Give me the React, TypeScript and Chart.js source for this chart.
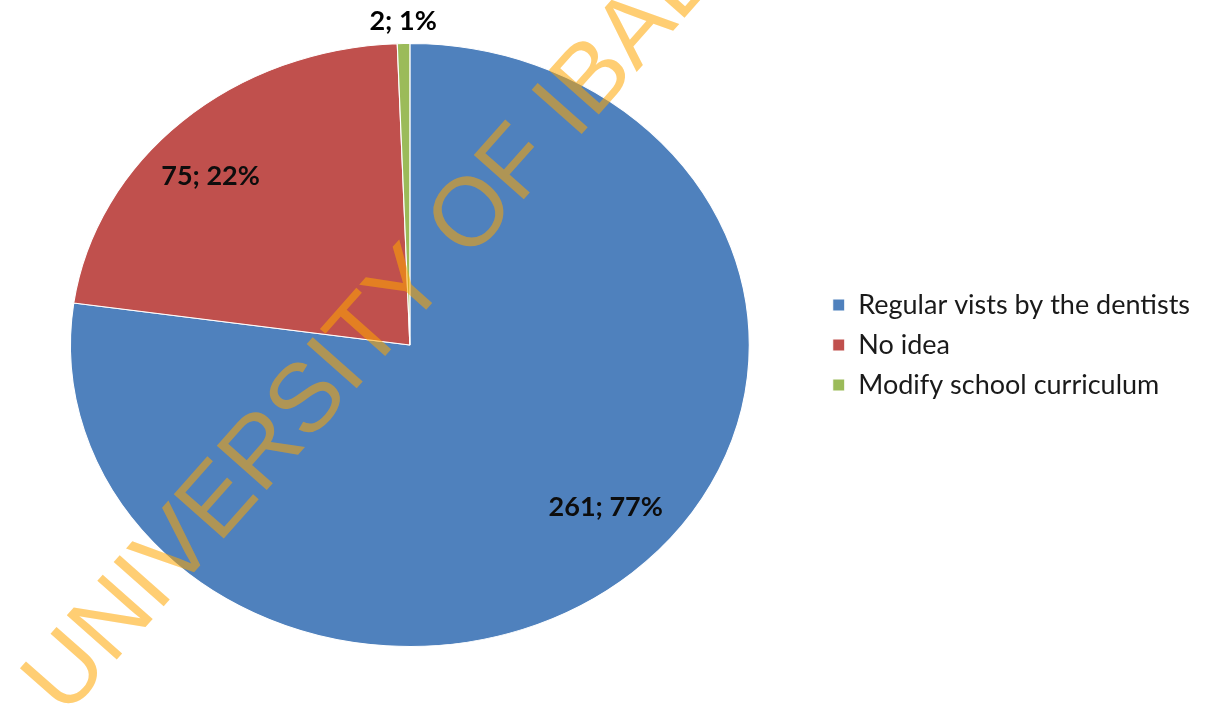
import React, { useEffect, useRef } from "react";
import { Chart, registerables } from "chart.js";

Chart.register(...registerables);

const categories = ["Regular vists by the dentists", "No idea", "Modify school curriculum"];
const counts = [261, 75, 2];
const percentLabels = ["77%", "22%", "1%"];
const sliceColors = ["#4F81BD", "#C0504D", "#9BBB59"];
const watermarkText = "UNIVERSITY OF IBADAN";

const X_STRETCH = 340 / 302;

export default function App() {
  const canvasRef = useRef<HTMLCanvasElement>(null);

  useEffect(() => {
    document.body.style.margin = "0";
    const canvas = canvasRef.current;
    if (!canvas) return;

    const stretchPlugin = {
      id: "stretch",
      beforeDatasetsDraw(chart: any) {
        const arc = chart.getDatasetMeta(0).data[0];
        const ctx = chart.ctx;
        ctx.save();
        ctx.translate(arc.x, arc.y);
        ctx.scale(X_STRETCH, 1);
        ctx.translate(-arc.x, -arc.y);
      },
      afterDatasetsDraw(chart: any) {
        chart.ctx.restore();
      },
    };

    const labelPlugin = {
      id: "sliceLabels",
      afterDraw(chart: any) {
        const ctx = chart.ctx;
        const meta = chart.getDatasetMeta(0);
        const total = counts.reduce((a, b) => a + b, 0);
        ctx.save();
        ctx.font = "bold 27px Lato";
        ctx.textAlign = "center";
        ctx.textBaseline = "middle";
        meta.data.forEach((arc: any, i: number) => {
          const small = counts[i] / total < 0.03;
          const mid = (arc.startAngle + arc.endAngle) / 2 - (small ? 0 : 0.09);
          const r = small ? arc.outerRadius + 22 : arc.outerRadius * 0.8;
          const px = arc.x + Math.cos(mid) * r * X_STRETCH;
          const py = arc.y + Math.sin(mid) * r - (small ? 0 : 5);
          ctx.fillStyle = small ? "#000000" : "#0d0d0d";
          ctx.fillText(`${counts[i]}; ${percentLabels[i]}`, px, py);
        });
        ctx.restore();
      },
    };

    const watermarkPlugin = {
      id: "watermark",
      afterDraw(chart: any) {
        const ctx = chart.ctx;
        ctx.save();
        ctx.translate(65, 718);
        ctx.rotate((-48.5 * Math.PI) / 180);
        ctx.font = "97px 'Liberation Sans'";
        ctx.textAlign = "left";
        ctx.textBaseline = "alphabetic";
        ctx.fillStyle = "rgba(255,165,0,0.55)";
        ctx.fillText(watermarkText, 0, 0);
        ctx.restore();
      },
    };

    const chart = new Chart(canvas, {
      type: "pie",
      data: {
        labels: categories,
        datasets: [
          {
            data: counts,
            backgroundColor: sliceColors,
            borderColor: "#ffffff",
            borderWidth: 1,
            clip: false as any,
          },
        ],
      },
      options: {
        responsive: false,
        animation: false,
        layout: { padding: { top: 43, bottom: 57, left: 0, right: 10 } },
        plugins: {
          legend: {
            position: "right",
            align: "center",
            labels: {
              boxWidth: 12,
              boxHeight: 12,
              padding: 13,
              color: "#1a1a1a",
              font: { family: "Lato", size: 27 },
            },
          },
          tooltip: { enabled: false },
        },
      },
      plugins: [stretchPlugin, labelPlugin, watermarkPlugin],
    });

    return () => chart.destroy();
  }, []);

  return (
    <div style={{ width: 1210, height: 704, background: "#ffffff" }}>
      <canvas ref={canvasRef} width={1210} height={704} />
    </div>
  );
}
